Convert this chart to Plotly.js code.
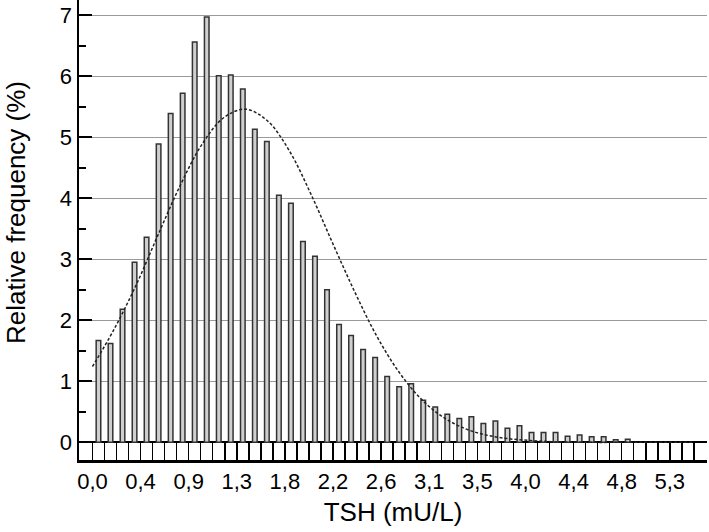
<!DOCTYPE html>
<html>
<head>
<meta charset="utf-8">
<script src="https://cdn.plot.ly/plotly-3.0.1.min.js"></script>
<style>
  html, body { margin: 0; padding: 0; background: #fff; }
  #chart { width: 709px; height: 532px; }
</style>
</head>
<body>
<div id="chart"></div>
<script>
// TSH histogram, bins of 0.11 mU/L
const binWidth = 0.11;
const relFreq = [
  1.67, 1.62, 2.18, 2.95, 3.36, 4.89, 5.39, 5.72, 6.56, 6.97,
  6.01, 6.02, 5.79, 5.13, 4.93, 4.05, 3.92, 3.29, 3.05, 2.50,
  1.93, 1.75, 1.52, 1.39, 1.08, 0.91, 0.96, 0.69, 0.58, 0.46,
  0.39, 0.42, 0.31, 0.35, 0.23, 0.27, 0.16, 0.16, 0.16, 0.10,
  0.12, 0.09, 0.09, 0.04, 0.05
];
const binCount = 50;

// fitted curve
const curveX = [0.0, 0.2, 0.4, 0.6, 0.8, 1.0, 1.2, 1.4, 1.6, 1.8, 2.0, 2.2, 2.4,
                2.6, 2.8, 3.0, 3.2, 3.4, 3.6, 3.8, 4.0, 4.2, 4.5, 5.0, 5.5];
const curveY = [1.24, 1.86, 2.58, 3.40, 4.20, 4.88, 5.32, 5.46, 5.27, 4.78, 4.06, 3.25, 2.46,
                1.74, 1.16, 0.72, 0.42, 0.23, 0.12, 0.06, 0.03, 0.01, 0, 0, 0];

const tickLabels = ['0,0', '0,4', '0,9', '1,3', '1,8', '2,2', '2,6',
                    '3,1', '3,5', '4,0', '4,4', '4,8', '5,3'];
const labelEvery = 4;

const barX = relFreq.map((_, i) => (i + 0.5) * binWidth);

const tickVals = [];
const tickText = [];
for (let k = 0; k <= binCount; k++) {
  tickVals.push(k * binWidth);
  tickText.push(k % labelEvery === 0 ? (tickLabels[k / labelEvery] || '') : '');
}

const bars = {
  type: 'bar',
  x: barX,
  y: relFreq,
  width: 0.042,
  marker: { color: '#cfcfcf', line: { color: '#333', width: 1.5 } },
  hoverinfo: 'x+y'
};

const curve = {
  type: 'scatter',
  mode: 'lines',
  x: curveX,
  y: curveY,
  line: { color: '#222', width: 1.5, dash: '3px,2px', shape: 'spline' },
  hoverinfo: 'skip'
};

const font = 'Liberation Sans, Arial, sans-serif';

const layout = {
  width: 709,
  height: 532,
  margin: { l: 79, r: 2, t: 0, b: 72 },
  paper_bgcolor: '#fff',
  plot_bgcolor: '#fff',
  showlegend: false,
  font: { family: font, color: '#000' },
  xaxis: {
    range: [-0.123, 5.62],
    tickmode: 'array',
    tickvals: tickVals,
    ticktext: tickText,
    ticks: 'inside',
    ticklen: 17,
    tickwidth: 1.5,
    tickcolor: '#000',
    showgrid: false,
    zeroline: false,
    showline: true,
    linecolor: '#000',
    linewidth: 2.5,
    tickfont: { size: 22, family: font },
    title: { text: 'TSH (mU/L)', font: { size: 26, family: font }, standoff: 10 }
  },
  yaxis: {
    range: [-0.29, 7.25],
    tickvals: [0, 1, 2, 3, 4, 5, 6, 7],
    ticks: 'inside',
    ticklen: 13,
    tickwidth: 2,
    tickcolor: '#000',
    minor: { tickvals: [0.5, 1.5, 2.5, 3.5, 4.5, 5.5, 6.5], ticks: 'inside', ticklen: 7, tickwidth: 2, tickcolor: '#000', showgrid: false },
    showgrid: true,
    gridcolor: '#9a9a9a',
    gridwidth: 1,
    zeroline: true,
    zerolinecolor: '#000',
    zerolinewidth: 2,
    showline: true,
    linecolor: '#000',
    linewidth: 2.5,
    tickfont: { size: 22, family: font }
  },
  annotations: [{
    text: 'Relative frequency (%)',
    textangle: -90,
    xref: 'paper', yref: 'paper',
    x: 0, y: 0.537,
    xanchor: 'right', yanchor: 'middle',
    xshift: -46,
    showarrow: false,
    font: { size: 26, family: font, color: '#000' }
  }]
};

Plotly.newPlot('chart', [bars, curve], layout, { displayModeBar: false, staticPlot: true });
</script>
</body>
</html>
